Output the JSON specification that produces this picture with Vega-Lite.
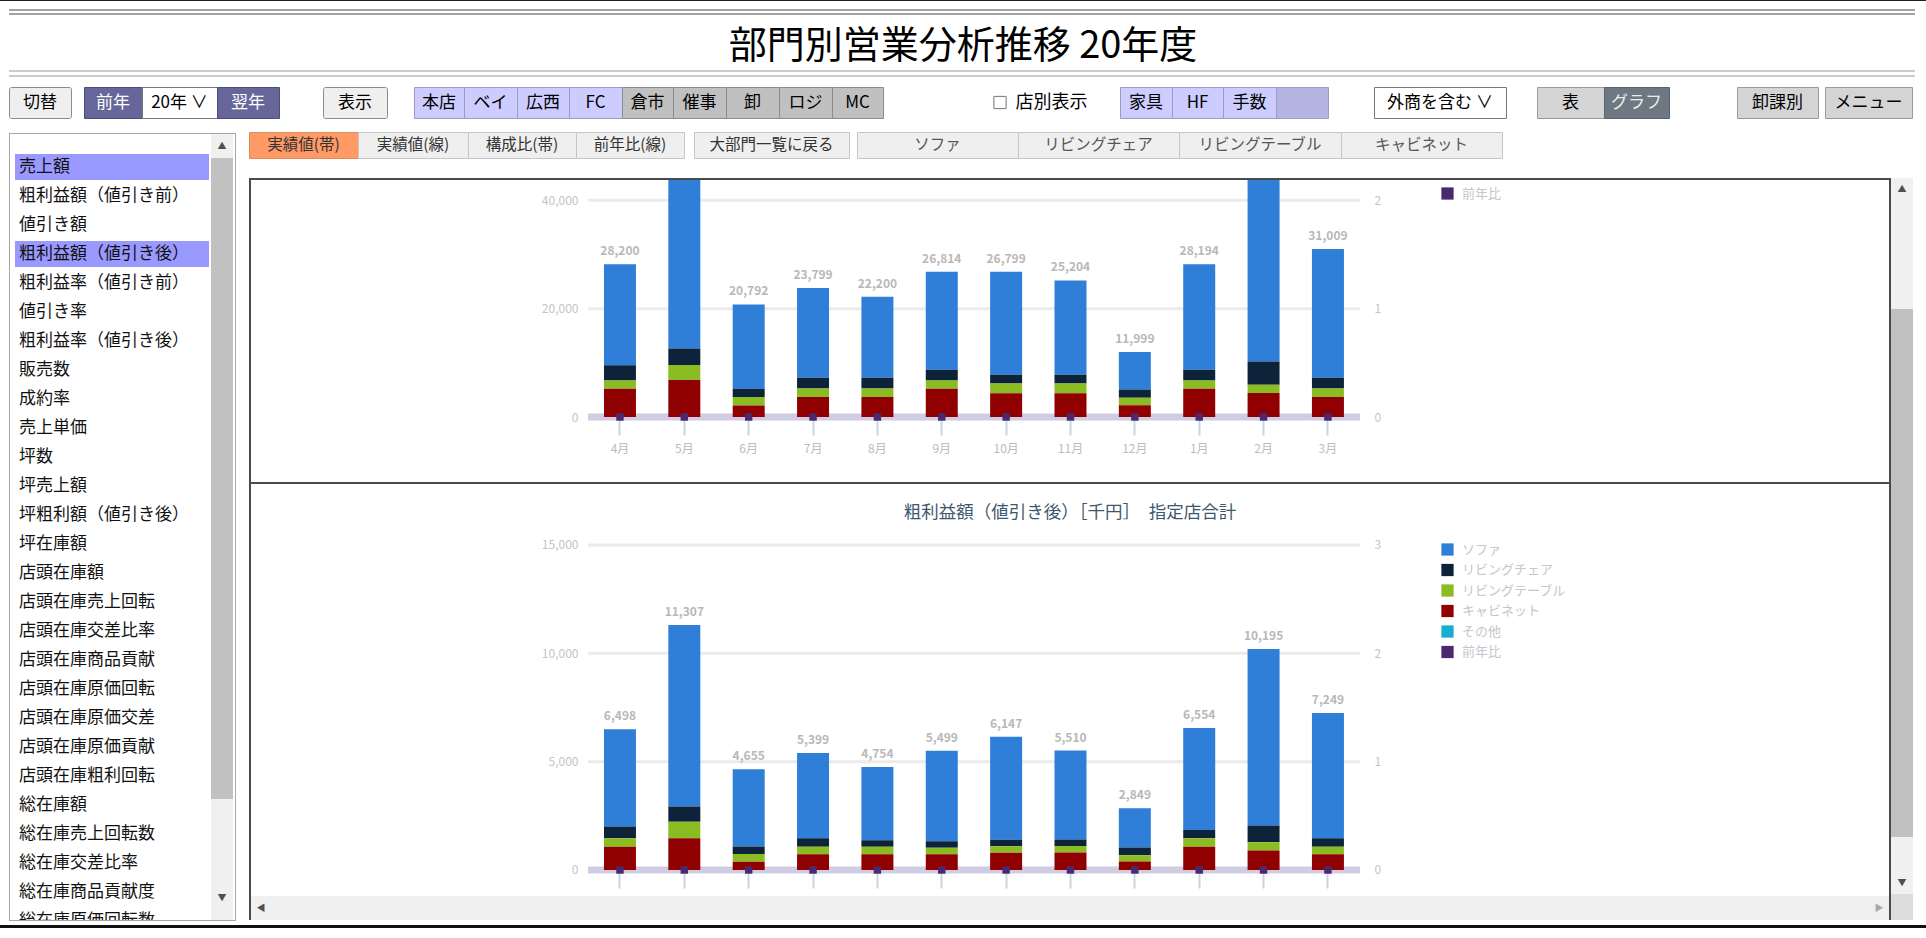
{
"$schema":"https://vega.github.io/schema/vega-lite/v6.json",
"padding":0,
"background":"#ffffff",
"spacing":0,
"config":{"font":"Noto Sans CJK JP","view":{"stroke":null},"concat":{"spacing":0},"axis":{"labelFont":"Noto Sans CJK JP"},"legend":{"labelFont":"Noto Sans CJK JP"},"text":{"font":"Noto Sans CJK JP"}},
"datasets":{
"top":[
{"month":"4月","series":"ソファ","value":18652},{"month":"4月","series":"リビングチェア","value":2814},{"month":"4月","series":"リビングテーブル","value":1536},{"month":"4月","series":"キャビネット","value":5198},
{"month":"5月","series":"ソファ","value":37412},{"month":"5月","series":"リビングチェア","value":3026},{"month":"5月","series":"リビングテーブル","value":2788},{"month":"5月","series":"キャビネット","value":6812},
{"month":"6月","series":"ソファ","value":15574},{"month":"6月","series":"リビングチェア","value":1528},{"month":"6月","series":"リビングテーブル","value":1547},{"month":"6月","series":"キャビネット","value":2143},
{"month":"7月","series":"ソファ","value":16548},{"month":"7月","series":"リビングチェア","value":2012},{"month":"7月","series":"リビングテーブル","value":1533},{"month":"7月","series":"キャビネット","value":3706},
{"month":"8月","series":"ソファ","value":14968},{"month":"8月","series":"リビングチェア","value":1987},{"month":"8月","series":"リビングテーブル","value":1551},{"month":"8月","series":"キャビネット","value":3694},
{"month":"9月","series":"ソファ","value":18071},{"month":"9月","series":"リビングチェア","value":1994},{"month":"9月","series":"リビングテーブル","value":1538},{"month":"9月","series":"キャビネット","value":5211},
{"month":"10月","series":"ソファ","value":18986},{"month":"10月","series":"リビングチェア","value":1612},{"month":"10月","series":"リビングテーブル","value":1796},{"month":"10月","series":"キャビネット","value":4405},
{"month":"11月","series":"ソファ","value":17415},{"month":"11月","series":"リビングチェア","value":1589},{"month":"11月","series":"リビングテーブル","value":1808},{"month":"11月","series":"キャビネット","value":4392},
{"month":"12月","series":"ソファ","value":6912},{"month":"12月","series":"リビングチェア","value":1534},{"month":"12月","series":"リビングテーブル","value":1406},{"month":"12月","series":"キャビネット","value":2147},
{"month":"1月","series":"ソファ","value":19448},{"month":"1月","series":"リビングチェア","value":2006},{"month":"1月","series":"リビングテーブル","value":1547},{"month":"1月","series":"キャビネット","value":5193},
{"month":"2月","series":"ソファ","value":37873},{"month":"2月","series":"リビングチェア","value":4312},{"month":"2月","series":"リビングテーブル","value":1534},{"month":"2月","series":"キャビネット","value":4408},
{"month":"3月","series":"ソファ","value":23745},{"month":"3月","series":"リビングチェア","value":2018},{"month":"3月","series":"リビングテーブル","value":1535},{"month":"3月","series":"キャビネット","value":3711}
],
"bottom":[
{"month":"4月","series":"ソファ","value":4486},{"month":"4月","series":"リビングチェア","value":552},{"month":"4月","series":"リビングテーブル","value":387},{"month":"4月","series":"キャビネット","value":1073},
{"month":"5月","series":"ソファ","value":8374},{"month":"5月","series":"リビングチェア","value":703},{"month":"5月","series":"リビングテーブル","value":768},{"month":"5月","series":"キャビネット","value":1462},
{"month":"6月","series":"ソファ","value":3571},{"month":"6月","series":"リビングチェア","value":348},{"month":"6月","series":"リビングテーブル","value":352},{"month":"6月","series":"キャビネット","value":384},
{"month":"7月","series":"ソファ","value":3936},{"month":"7月","series":"リビングチェア","value":387},{"month":"7月","series":"リビングテーブル","value":349},{"month":"7月","series":"キャビネット","value":727},
{"month":"8月","series":"ソファ","value":3382},{"month":"8月","series":"リビングチェア","value":298},{"month":"8月","series":"リビングテーブル","value":351},{"month":"8月","series":"キャビネット","value":723},
{"month":"9月","series":"ソファ","value":4171},{"month":"9月","series":"リビングチェア","value":302},{"month":"9月","series":"リビングテーブル","value":298},{"month":"9月","series":"キャビネット","value":728},
{"month":"10月","series":"ソファ","value":4746},{"month":"10月","series":"リビングチェア","value":301},{"month":"10月","series":"リビングテーブル","value":303},{"month":"10月","series":"キャビネット","value":797},
{"month":"11月","series":"ソファ","value":4108},{"month":"11月","series":"リビングチェア","value":297},{"month":"11月","series":"リビングテーブル","value":302},{"month":"11月","series":"キャビネット","value":803},
{"month":"12月","series":"ソファ","value":1812},{"month":"12月","series":"リビングチェア","value":352},{"month":"12月","series":"リビングテーブル","value":298},{"month":"12月","series":"キャビネット","value":387},
{"month":"1月","series":"ソファ","value":4711},{"month":"1月","series":"リビングチェア","value":383},{"month":"1月","series":"リビングテーブル","value":388},{"month":"1月","series":"キャビネット","value":1072},
{"month":"2月","series":"ソファ","value":8137},{"month":"2月","series":"リビングチェア","value":772},{"month":"2月","series":"リビングテーブル","value":383},{"month":"2月","series":"キャビネット","value":903},
{"month":"3月","series":"ソファ","value":5786},{"month":"3月","series":"リビングチェア","value":387},{"month":"3月","series":"リビングテーブル","value":352},{"month":"3月","series":"キャビネット","value":724}
],
"ratio":[
{"month":"4月","series":"前年比","value":0},{"month":"5月","series":"前年比","value":0},{"month":"6月","series":"前年比","value":0},{"month":"7月","series":"前年比","value":0},{"month":"8月","series":"前年比","value":0},{"month":"9月","series":"前年比","value":0},{"month":"10月","series":"前年比","value":0},{"month":"11月","series":"前年比","value":0},{"month":"12月","series":"前年比","value":0},{"month":"1月","series":"前年比","value":0},{"month":"2月","series":"前年比","value":0},{"month":"3月","series":"前年比","value":0}
]
},
"vconcat":[
{"width":1926,"height":1,"view":{"fill":"#1e1e1e"},"data":{"values":[]},"mark":"text"},
{"width":1,"height":8,"data":{"values":[]},"mark":"text"},
{"hconcat":[{"width":9,"height":2,"data":{"values":[]},"mark":"text"},{"width":1906,"height":2,"view":{"fill":"#a3a3a3"},"data":{"values":[]},"mark":"text"}],"spacing":0,"bounds":"flush"},
{"width":1,"height":2,"data":{"values":[]},"mark":"text"},
{"hconcat":[{"width":9,"height":2,"data":{"values":[]},"mark":"text"},{"width":1906,"height":2,"view":{"fill":"#a3a3a3"},"data":{"values":[]},"mark":"text"}],"spacing":0,"bounds":"flush"},
{"width":1926,"height":55,"data":{"values":[{"t":"部門別営業分析推移 20年度"}]},"mark":{"type":"text","fontSize":38,"color":"#000000","dy":4},"encoding":{"text":{"field":"t"}}},
{"hconcat":[{"width":9,"height":2,"data":{"values":[]},"mark":"text"},{"width":1906,"height":2,"view":{"fill":"#cdcdcd"},"data":{"values":[]},"mark":"text"}],"spacing":0,"bounds":"flush"},
{"width":1,"height":3,"data":{"values":[]},"mark":"text"},
{"hconcat":[{"width":9,"height":2,"data":{"values":[]},"mark":"text"},{"width":1906,"height":2,"view":{"fill":"#cdcdcd"},"data":{"values":[]},"mark":"text"}],"spacing":0,"bounds":"flush"},
{"width":1,"height":9,"data":{"values":[]},"mark":"text"},
{"hconcat":[
{"width":9,"height":1,"data":{"values":[]},"mark":"text"},
{"width":62,"height":31,"view":{"fill":"#efefef","stroke":"#8c8c8c","cornerRadius":2},"data":{"values":[{"label":"切替"}]},"mark":{"type":"text","fontSize":17,"color":"#000000"},"encoding":{"text":{"field":"label"}}},
{"width":13,"height":1,"data":{"values":[]},"mark":"text"},
{"width":58,"height":31,"view":{"fill":"#66669a","stroke":"#4d4d7a"},"data":{"values":[{"label":"前年"}]},"mark":{"type":"text","fontSize":17,"color":"#ffffff"},"encoding":{"text":{"field":"label"}}},
{"width":75,"height":31,"view":{"fill":"#ffffff","stroke":"#767676"},"data":{"values":[{"label":"20年 ∨"}]},"mark":{"type":"text","fontSize":17,"color":"#000000"},"encoding":{"text":{"field":"label"}}},
{"width":62,"height":31,"view":{"fill":"#66669a","stroke":"#4d4d7a"},"data":{"values":[{"label":"翌年"}]},"mark":{"type":"text","fontSize":17,"color":"#ffffff"},"encoding":{"text":{"field":"label"}}},
{"width":44,"height":1,"data":{"values":[]},"mark":"text"},
{"width":64,"height":31,"view":{"fill":"#efefef","stroke":"#8c8c8c","cornerRadius":2},"data":{"values":[{"label":"表示"}]},"mark":{"type":"text","fontSize":17,"color":"#000000"},"encoding":{"text":{"field":"label"}}},
{"width":27,"height":1,"data":{"values":[]},"mark":"text"},
{"width":50,"height":31,"view":{"fill":"#ccccff","stroke":"#9c9cc0"},"data":{"values":[{"label":"本店"}]},"mark":{"type":"text","fontSize":17,"color":"#000000"},"encoding":{"text":{"field":"label"}}},
{"width":53,"height":31,"view":{"fill":"#ccccff","stroke":"#9c9cc0"},"data":{"values":[{"label":"ベイ"}]},"mark":{"type":"text","fontSize":17,"color":"#000000"},"encoding":{"text":{"field":"label"}}},
{"width":52,"height":31,"view":{"fill":"#ccccff","stroke":"#9c9cc0"},"data":{"values":[{"label":"広西"}]},"mark":{"type":"text","fontSize":17,"color":"#000000"},"encoding":{"text":{"field":"label"}}},
{"width":53,"height":31,"view":{"fill":"#ccccff","stroke":"#9c9cc0"},"data":{"values":[{"label":"FC"}]},"mark":{"type":"text","fontSize":17,"color":"#000000"},"encoding":{"text":{"field":"label"}}},
{"width":51,"height":31,"view":{"fill":"#c0c0c0","stroke":"#8c8c8c"},"data":{"values":[{"label":"倉市"}]},"mark":{"type":"text","fontSize":17,"color":"#000000"},"encoding":{"text":{"field":"label"}}},
{"width":53,"height":31,"view":{"fill":"#c0c0c0","stroke":"#8c8c8c"},"data":{"values":[{"label":"催事"}]},"mark":{"type":"text","fontSize":17,"color":"#000000"},"encoding":{"text":{"field":"label"}}},
{"width":53,"height":31,"view":{"fill":"#c0c0c0","stroke":"#8c8c8c"},"data":{"values":[{"label":"卸"}]},"mark":{"type":"text","fontSize":17,"color":"#000000"},"encoding":{"text":{"field":"label"}}},
{"width":53,"height":31,"view":{"fill":"#c0c0c0","stroke":"#8c8c8c"},"data":{"values":[{"label":"ロジ"}]},"mark":{"type":"text","fontSize":17,"color":"#000000"},"encoding":{"text":{"field":"label"}}},
{"width":51,"height":31,"view":{"fill":"#c0c0c0","stroke":"#8c8c8c"},"data":{"values":[{"label":"MC"}]},"mark":{"type":"text","fontSize":17,"color":"#000000"},"encoding":{"text":{"field":"label"}}},
{"width":108,"height":1,"data":{"values":[]},"mark":"text"},
{"width":18,"height":31,"data":{"values":[{"c":1}]},"mark":{"type":"point","shape":"square","size":150,"filled":false,"stroke":"#767676","strokeWidth":1,"opacity":1},"encoding":{}},
{"width":85,"height":31,"data":{"values":[{"label":"店別表示"}]},"mark":{"type":"text","fontSize":18,"color":"#000000"},"encoding":{"text":{"field":"label"}}},
{"width":26,"height":1,"data":{"values":[]},"mark":"text"},
{"width":52,"height":31,"view":{"fill":"#ccccff","stroke":"#9c9cc0"},"data":{"values":[{"label":"家具"}]},"mark":{"type":"text","fontSize":17,"color":"#000000"},"encoding":{"text":{"field":"label"}}},
{"width":51,"height":31,"view":{"fill":"#ccccff","stroke":"#9c9cc0"},"data":{"values":[{"label":"HF"}]},"mark":{"type":"text","fontSize":17,"color":"#000000"},"encoding":{"text":{"field":"label"}}},
{"width":53,"height":31,"view":{"fill":"#ccccff","stroke":"#9c9cc0"},"data":{"values":[{"label":"手数"}]},"mark":{"type":"text","fontSize":17,"color":"#000000"},"encoding":{"text":{"field":"label"}}},
{"width":52,"height":31,"view":{"fill":"#b4b4e2","stroke":"#9c9cc0"},"data":{"values":[]},"mark":"text"},
{"width":46,"height":1,"data":{"values":[]},"mark":"text"},
{"width":132,"height":31,"view":{"fill":"#ffffff","stroke":"#767676"},"data":{"values":[{"label":"外商を含む ∨"}]},"mark":{"type":"text","fontSize":17,"color":"#000000"},"encoding":{"text":{"field":"label"}}},
{"width":31,"height":1,"data":{"values":[]},"mark":"text"},
{"width":67,"height":31,"view":{"fill":"#d4d4d4","stroke":"#9a9a9a"},"data":{"values":[{"label":"表"}]},"mark":{"type":"text","fontSize":17,"color":"#000000"},"encoding":{"text":{"field":"label"}}},
{"width":65,"height":31,"view":{"fill":"#6e7882","stroke":"#5a636b"},"data":{"values":[{"label":"グラフ"}]},"mark":{"type":"text","fontSize":17,"color":"#ececec"},"encoding":{"text":{"field":"label"}}},
{"width":68,"height":1,"data":{"values":[]},"mark":"text"},
{"width":81,"height":31,"view":{"fill":"#d4d4d4","stroke":"#9a9a9a"},"data":{"values":[{"label":"卸課別"}]},"mark":{"type":"text","fontSize":17,"color":"#000000"},"encoding":{"text":{"field":"label"}}},
{"width":7,"height":1,"data":{"values":[]},"mark":"text"},
{"width":87,"height":31,"view":{"fill":"#d4d4d4","stroke":"#9a9a9a"},"data":{"values":[{"label":"メニュー"}]},"mark":{"type":"text","fontSize":17,"color":"#000000"},"encoding":{"text":{"field":"label"}}}
],"spacing":0,"bounds":"flush"},
{"width":1,"height":12,"data":{"values":[]},"mark":"text"},
{"hconcat":[
{"width":9,"height":1,"data":{"values":[]},"mark":"text"},
{"vconcat":[
 {"width":1,"height":1,"data":{"values":[]},"mark":"text"},
 {"width":227,"height":1,"view":{"fill":"#a6a6a6"},"data":{"values":[]},"mark":"text"},
 {"hconcat":[
  {"width":1,"height":786,"view":{"fill":"#a6a6a6"},"data":{"values":[]},"mark":"text"},
  {"width":5,"height":1,"data":{"values":[]},"mark":"text"},
  {"width":194,"height":786,
   "data":{"values":[
    {"item":"売上額","sel":true},{"item":"粗利益額（値引き前）","sel":false},{"item":"値引き額","sel":false},{"item":"粗利益額（値引き後）","sel":true},{"item":"粗利益率（値引き前）","sel":false},{"item":"値引き率","sel":false},{"item":"粗利益率（値引き後）","sel":false},{"item":"販売数","sel":false},{"item":"成約率","sel":false},{"item":"売上単価","sel":false},{"item":"坪数","sel":false},{"item":"坪売上額","sel":false},{"item":"坪粗利額（値引き後）","sel":false},{"item":"坪在庫額","sel":false},{"item":"店頭在庫額","sel":false},{"item":"店頭在庫売上回転","sel":false},{"item":"店頭在庫交差比率","sel":false},{"item":"店頭在庫商品貢献","sel":false},{"item":"店頭在庫原価回転","sel":false},{"item":"店頭在庫原価交差","sel":false},{"item":"店頭在庫原価貢献","sel":false},{"item":"店頭在庫粗利回転","sel":false},{"item":"総在庫額","sel":false},{"item":"総在庫売上回転数","sel":false},{"item":"総在庫交差比率","sel":false},{"item":"総在庫商品貢献度","sel":false},{"item":"総在庫原価回転数","sel":false}
   ]},
   "encoding":{"y":{"field":"item","type":"nominal","scale":{"domain":["売上額","粗利益額（値引き前）","値引き額","粗利益額（値引き後）","粗利益率（値引き前）","値引き率","粗利益率（値引き後）","販売数","成約率","売上単価","坪数","坪売上額","坪粗利額（値引き後）","坪在庫額","店頭在庫額","店頭在庫売上回転","店頭在庫交差比率","店頭在庫商品貢献","店頭在庫原価回転","店頭在庫原価交差","店頭在庫原価貢献","店頭在庫粗利回転","総在庫額","総在庫売上回転数","総在庫交差比率","総在庫商品貢献度","総在庫原価回転数"],"range":[20,800],"paddingInner":0.1,"paddingOuter":0},"axis":null}},
   "layer":[
    {"transform":[{"filter":"datum.sel"}],"mark":{"type":"bar","color":"#9999ff"},"encoding":{"x":{"datum":0,"type":"quantitative","scale":{"domain":[0,1],"nice":false},"axis":null},"x2":{"datum":1}}},
    {"mark":{"type":"text","align":"left","fontSize":17,"color":"#111111","clip":true,"dx":4},"encoding":{"x":{"datum":0,"type":"quantitative","scale":{"domain":[0,1],"nice":false},"axis":null},"text":{"field":"item"}}}
   ]},
  {"width":2,"height":1,"data":{"values":[]},"mark":"text"},
  {"vconcat":[
   {"width":22,"height":23,"view":{"fill":"#f0f0f0"},"data":{"values":[{"a":"▲"}]},"mark":{"type":"text","fontSize":9,"color":"#505050"},"encoding":{"text":{"field":"a"}}},
   {"width":22,"height":1,"view":{"fill":"#f0f0f0"},"data":{"values":[]},"mark":"text"},
   {"width":22,"height":641,"view":{"fill":"#c1c1c1"},"data":{"values":[]},"mark":"text"},
   {"width":22,"height":87,"view":{"fill":"#f0f0f0"},"data":{"values":[]},"mark":"text"},
   {"width":22,"height":23,"view":{"fill":"#f0f0f0"},"data":{"values":[{"a":"▼"}]},"mark":{"type":"text","fontSize":9,"color":"#505050"},"encoding":{"text":{"field":"a"}}},
   {"width":22,"height":11,"view":{"fill":"#f0f0f0"},"data":{"values":[]},"mark":"text"}
  ],"spacing":0,"bounds":"flush"},
  {"width":2,"height":1,"data":{"values":[]},"mark":"text"},
  {"width":1,"height":786,"view":{"fill":"#a6a6a6"},"data":{"values":[]},"mark":"text"}
 ],"spacing":0},
 {"width":227,"height":1,"view":{"fill":"#a6a6a6"},"data":{"values":[]},"mark":"text"}
],"spacing":0},
{"width":12,"height":1,"data":{"values":[]},"mark":"text"},
{"vconcat":[
 {"hconcat":[
  {"width":109,"height":26,"view":{"fill":"#ff9966","stroke":"#e08a5a"},"data":{"values":[{"label":"実績値(帯)"}]},"mark":{"type":"text","fontSize":15.5,"color":"#333333"},"encoding":{"text":{"field":"label"}}},
  {"width":110,"height":26,"view":{"fill":"#efefef","stroke":"#c6c6c6"},"data":{"values":[{"label":"実績値(線)"}]},"mark":{"type":"text","fontSize":15.5,"color":"#333333"},"encoding":{"text":{"field":"label"}}},
  {"width":108,"height":26,"view":{"fill":"#efefef","stroke":"#c6c6c6"},"data":{"values":[{"label":"構成比(帯)"}]},"mark":{"type":"text","fontSize":15.5,"color":"#333333"},"encoding":{"text":{"field":"label"}}},
  {"width":108,"height":26,"view":{"fill":"#efefef","stroke":"#c6c6c6"},"data":{"values":[{"label":"前年比(線)"}]},"mark":{"type":"text","fontSize":15.5,"color":"#333333"},"encoding":{"text":{"field":"label"}}},
  {"width":10,"height":1,"data":{"values":[]},"mark":"text"},
  {"width":155,"height":26,"view":{"fill":"#efefef","stroke":"#c6c6c6"},"data":{"values":[{"label":"大部門一覧に戻る"}]},"mark":{"type":"text","fontSize":15.5,"color":"#333333"},"encoding":{"text":{"field":"label"}}},
  {"width":8,"height":1,"data":{"values":[]},"mark":"text"},
  {"width":161,"height":26,"view":{"fill":"#efefef","stroke":"#c6c6c6"},"data":{"values":[{"label":"ソファ"}]},"mark":{"type":"text","fontSize":15.5,"color":"#555555"},"encoding":{"text":{"field":"label"}}},
  {"width":161,"height":26,"view":{"fill":"#efefef","stroke":"#c6c6c6"},"data":{"values":[{"label":"リビングチェア"}]},"mark":{"type":"text","fontSize":15.5,"color":"#555555"},"encoding":{"text":{"field":"label"}}},
  {"width":162,"height":26,"view":{"fill":"#efefef","stroke":"#c6c6c6"},"data":{"values":[{"label":"リビングテーブル"}]},"mark":{"type":"text","fontSize":15.5,"color":"#555555"},"encoding":{"text":{"field":"label"}}},
  {"width":161,"height":26,"view":{"fill":"#efefef","stroke":"#c6c6c6"},"data":{"values":[{"label":"キャビネット"}]},"mark":{"type":"text","fontSize":15.5,"color":"#555555"},"encoding":{"text":{"field":"label"}}}
 ],"spacing":0,"bounds":"flush"},
 {"width":1,"height":19,"data":{"values":[]},"mark":"text"},
 {"hconcat":[
  {"vconcat":[
   {"width":1642,"height":2,"view":{"fill":"#4a4a4a"},"data":{"values":[]},"mark":"text"},
   {"hconcat":[
    {"width":2,"height":740,"view":{"fill":"#4a4a4a"},"data":{"values":[]},"mark":"text"},
    {"vconcat":[
     {"width":1638,"height":302,
      "layer":[
       {"data":{"name":"top"},
        "layer":[
         {"data":{"values":[{"g":0},{"g":20000},{"g":40000}]},
          "mark":{"type":"rule","color":"#ebebeb","strokeWidth":3},
          "encoding":{
           "x":{"datum":"4月","type":"ordinal","bandPosition":-0.5,"scale":{"type":"band","domain":["_a1","_a2","_a3","_a4","_a5","4月","5月","6月","7月","8月","9月","10月","11月","12月","1月","2月","3月","_b1","_b2","_b3","_b4","_b5","_b6","_b7","_b8"],"paddingInner":0.503,"paddingOuter":0.4765,"align":0.508},"axis":{"orient":"bottom","offset":-65,"values":["4月","5月","6月","7月","8月","9月","10月","11月","12月","1月","2月","3月"],"title":null,"domain":false,"grid":false,"ticks":true,"tickSize":18,"tickWidth":2,"tickColor":"#c8d5e2","labelColor":"#bcbcbc","labelFontSize":12,"labelPadding":8,"labelAngle":0}},
           "x2":{"datum":"3月","bandPosition":1.5},
           "y":{"field":"g","type":"quantitative","scale":{"domain":[-12000,43754],"nice":false,"zero":false},"axis":{"orient":"left","offset":-337,"values":[0,20000,40000],"labelExpr":"format(datum.value, ',')","title":null,"domain":false,"ticks":false,"tickSize":0,"grid":false,"labelColor":"#c4c4c4","labelFontSize":12,"labelPadding":10}}}},
         {"data":{"values":[{"g":0}]},
          "mark":{"type":"rule","color":"#cfcce4","strokeWidth":7},
          "encoding":{
           "x":{"datum":"4月","type":"ordinal","bandPosition":-0.5,"scale":{"type":"band","domain":["_a1","_a2","_a3","_a4","_a5","4月","5月","6月","7月","8月","9月","10月","11月","12月","1月","2月","3月","_b1","_b2","_b3","_b4","_b5","_b6","_b7","_b8"],"paddingInner":0.503,"paddingOuter":0.4765,"align":0.508},"axis":{"orient":"bottom","offset":-65,"values":["4月","5月","6月","7月","8月","9月","10月","11月","12月","1月","2月","3月"],"title":null,"domain":false,"grid":false,"ticks":true,"tickSize":18,"tickWidth":2,"tickColor":"#c8d5e2","labelColor":"#bcbcbc","labelFontSize":12,"labelPadding":8,"labelAngle":0}},
           "x2":{"datum":"3月","bandPosition":1.5},
           "y":{"field":"g","type":"quantitative","scale":{"domain":[-12000,43754],"nice":false,"zero":false},"axis":{"orient":"left","offset":-337,"values":[0,20000,40000],"labelExpr":"format(datum.value, ',')","title":null,"domain":false,"ticks":false,"tickSize":0,"grid":false,"labelColor":"#c4c4c4","labelFontSize":12,"labelPadding":10}}}},
         {"transform":[{"calculate":"indexof(['ソファ','リビングチェア','リビングテーブル','キャビネット','その他','前年比'], datum.series)","as":"k"}],
          "mark":{"type":"bar","clip":true},
          "encoding":{
           "x":{"field":"month","type":"ordinal","scale":{"type":"band","domain":["_a1","_a2","_a3","_a4","_a5","4月","5月","6月","7月","8月","9月","10月","11月","12月","1月","2月","3月","_b1","_b2","_b3","_b4","_b5","_b6","_b7","_b8"],"paddingInner":0.503,"paddingOuter":0.4765,"align":0.508},"axis":{"orient":"bottom","offset":-65,"values":["4月","5月","6月","7月","8月","9月","10月","11月","12月","1月","2月","3月"],"title":null,"domain":false,"grid":false,"ticks":true,"tickSize":18,"tickWidth":2,"tickColor":"#c8d5e2","labelColor":"#bcbcbc","labelFontSize":12,"labelPadding":8,"labelAngle":0}},
           "y":{"field":"value","type":"quantitative","stack":"zero","scale":{"domain":[-12000,43754],"nice":false,"zero":false},"axis":{"orient":"left","offset":-337,"values":[0,20000,40000],"labelExpr":"format(datum.value, ',')","title":null,"domain":false,"ticks":false,"tickSize":0,"grid":false,"labelColor":"#c4c4c4","labelFontSize":12,"labelPadding":10}},
           "color":{"field":"series","type":"nominal","scale":{"domain":["ソファ","リビングチェア","リビングテーブル","キャビネット","その他","前年比"],"range":["#2f7ed8","#0d233a","#8bbc21","#910000","#1aadce","#492970"]},"legend":{"orient":"none","legendX":1190,"legendY":7,"title":null,"values":["前年比"],"symbolType":"square","symbolSize":150,"symbolStrokeWidth":0,"labelFontSize":13,"labelColor":"#c3c7cd","rowPadding":6.5,"labelOffset":8}},
           "order":{"field":"k","type":"quantitative","sort":"descending"}}},
         {"transform":[{"aggregate":[{"op":"sum","field":"value","as":"total"}],"groupby":["month"]},{"filter":"datum.total < 41000"}],
          "mark":{"type":"text","clip":true,"baseline":"bottom","dy":-6,"fontSize":12,"fontWeight":"bold","color":"#b8b8b8"},
          "encoding":{
           "x":{"field":"month","type":"ordinal","scale":{"type":"band","domain":["_a1","_a2","_a3","_a4","_a5","4月","5月","6月","7月","8月","9月","10月","11月","12月","1月","2月","3月","_b1","_b2","_b3","_b4","_b5","_b6","_b7","_b8"],"paddingInner":0.503,"paddingOuter":0.4765,"align":0.508},"axis":{"orient":"bottom","offset":-65,"values":["4月","5月","6月","7月","8月","9月","10月","11月","12月","1月","2月","3月"],"title":null,"domain":false,"grid":false,"ticks":true,"tickSize":18,"tickWidth":2,"tickColor":"#c8d5e2","labelColor":"#bcbcbc","labelFontSize":12,"labelPadding":8,"labelAngle":0}},
           "y":{"field":"total","type":"quantitative","scale":{"domain":[-12000,43754],"nice":false,"zero":false},"axis":{"orient":"left","offset":-337,"values":[0,20000,40000],"labelExpr":"format(datum.value, ',')","title":null,"domain":false,"ticks":false,"tickSize":0,"grid":false,"labelColor":"#c4c4c4","labelFontSize":12,"labelPadding":10}},
           "text":{"field":"total","type":"quantitative","format":","}}}
        ]},
       {"data":{"name":"ratio"},
        "mark":{"type":"point","filled":true,"shape":"square","size":55,"opacity":1},
        "encoding":{
         "x":{"field":"month","type":"ordinal","scale":{"type":"band","domain":["_a1","_a2","_a3","_a4","_a5","4月","5月","6月","7月","8月","9月","10月","11月","12月","1月","2月","3月","_b1","_b2","_b3","_b4","_b5","_b6","_b7","_b8"],"paddingInner":0.503,"paddingOuter":0.4765,"align":0.508},"axis":{"orient":"bottom","offset":-65,"values":["4月","5月","6月","7月","8月","9月","10月","11月","12月","1月","2月","3月"],"title":null,"domain":false,"grid":false,"ticks":true,"tickSize":18,"tickWidth":2,"tickColor":"#c8d5e2","labelColor":"#bcbcbc","labelFontSize":12,"labelPadding":8,"labelAngle":0}},
         "y":{"field":"value","type":"quantitative","scale":{"domain":[-0.6,2.1877],"nice":false,"zero":false},"axis":{"orient":"right","offset":-527,"values":[0,1,2],"title":null,"domain":false,"ticks":false,"tickSize":0,"grid":false,"labelColor":"#c4c4c4","labelFontSize":12,"labelPadding":12}},
         "color":{"field":"series","type":"nominal","scale":{"domain":["ソファ","リビングチェア","リビングテーブル","キャビネット","その他","前年比"],"range":["#2f7ed8","#0d233a","#8bbc21","#910000","#1aadce","#492970"]},"legend":{"orient":"none","legendX":1190,"legendY":7,"title":null,"values":["前年比"],"symbolType":"square","symbolSize":150,"symbolStrokeWidth":0,"labelFontSize":13,"labelColor":"#c3c7cd","rowPadding":6.5,"labelOffset":8}}}}
      ],
      "resolve":{"scale":{"y":"independent"}}},
     {"width":1638,"height":2,"view":{"fill":"#4a4a4a"},"data":{"values":[]},"mark":"text"},
     {"width":1638,"height":54,"data":{"values":[{"t":"粗利益額（値引き後）［千円］　指定店合計"}]},"mark":{"type":"text","fontSize":17.5,"color":"#3e576f","dy":2},"encoding":{"text":{"field":"t"}}},
     {"width":1638,"height":358,
      "layer":[
       {"data":{"name":"bottom"},
        "layer":[
         {"data":{"values":[{"g":0},{"g":5000},{"g":10000},{"g":15000}]},
          "mark":{"type":"rule","color":"#ebebeb","strokeWidth":3},
          "encoding":{
           "x":{"datum":"4月","type":"ordinal","bandPosition":-0.5,"scale":{"type":"band","domain":["_a1","_a2","_a3","_a4","_a5","4月","5月","6月","7月","8月","9月","10月","11月","12月","1月","2月","3月","_b1","_b2","_b3","_b4","_b5","_b6","_b7","_b8"],"paddingInner":0.503,"paddingOuter":0.4765,"align":0.508},"axis":{"orient":"bottom","offset":-26,"values":["4月","5月","6月","7月","8月","9月","10月","11月","12月","1月","2月","3月"],"title":null,"domain":false,"grid":false,"ticks":true,"tickSize":18,"tickWidth":2,"tickColor":"#c8d5e2","labels":false}},
           "x2":{"datum":"3月","bandPosition":1.5},
           "y":{"field":"g","type":"quantitative","scale":{"domain":[-1200,15323],"nice":false,"zero":false},"axis":{"orient":"left","offset":-337,"values":[0,5000,10000,15000],"labelExpr":"format(datum.value, ',')","title":null,"domain":false,"ticks":false,"tickSize":0,"grid":false,"labelColor":"#c4c4c4","labelFontSize":12,"labelPadding":10}}}},
         {"data":{"values":[{"g":0}]},
          "mark":{"type":"rule","color":"#cfcce4","strokeWidth":7},
          "encoding":{
           "x":{"datum":"4月","type":"ordinal","bandPosition":-0.5,"scale":{"type":"band","domain":["_a1","_a2","_a3","_a4","_a5","4月","5月","6月","7月","8月","9月","10月","11月","12月","1月","2月","3月","_b1","_b2","_b3","_b4","_b5","_b6","_b7","_b8"],"paddingInner":0.503,"paddingOuter":0.4765,"align":0.508},"axis":{"orient":"bottom","offset":-26,"values":["4月","5月","6月","7月","8月","9月","10月","11月","12月","1月","2月","3月"],"title":null,"domain":false,"grid":false,"ticks":true,"tickSize":18,"tickWidth":2,"tickColor":"#c8d5e2","labels":false}},
           "x2":{"datum":"3月","bandPosition":1.5},
           "y":{"field":"g","type":"quantitative","scale":{"domain":[-1200,15323],"nice":false,"zero":false},"axis":{"orient":"left","offset":-337,"values":[0,5000,10000,15000],"labelExpr":"format(datum.value, ',')","title":null,"domain":false,"ticks":false,"tickSize":0,"grid":false,"labelColor":"#c4c4c4","labelFontSize":12,"labelPadding":10}}}},
         {"transform":[{"calculate":"indexof(['ソファ','リビングチェア','リビングテーブル','キャビネット','その他','前年比'], datum.series)","as":"k"}],
          "mark":{"type":"bar","clip":true},
          "encoding":{
           "x":{"field":"month","type":"ordinal","scale":{"type":"band","domain":["_a1","_a2","_a3","_a4","_a5","4月","5月","6月","7月","8月","9月","10月","11月","12月","1月","2月","3月","_b1","_b2","_b3","_b4","_b5","_b6","_b7","_b8"],"paddingInner":0.503,"paddingOuter":0.4765,"align":0.508},"axis":{"orient":"bottom","offset":-26,"values":["4月","5月","6月","7月","8月","9月","10月","11月","12月","1月","2月","3月"],"title":null,"domain":false,"grid":false,"ticks":true,"tickSize":18,"tickWidth":2,"tickColor":"#c8d5e2","labels":false}},
           "y":{"field":"value","type":"quantitative","stack":"zero","scale":{"domain":[-1200,15323],"nice":false,"zero":false},"axis":{"orient":"left","offset":-337,"values":[0,5000,10000,15000],"labelExpr":"format(datum.value, ',')","title":null,"domain":false,"ticks":false,"tickSize":0,"grid":false,"labelColor":"#c4c4c4","labelFontSize":12,"labelPadding":10}},
           "color":{"field":"series","type":"nominal","scale":{"domain":["ソファ","リビングチェア","リビングテーブル","キャビネット","その他","前年比"],"range":["#2f7ed8","#0d233a","#8bbc21","#910000","#1aadce","#492970"]},"legend":{"orient":"none","legendX":1190,"legendY":5,"title":null,"symbolType":"square","symbolSize":150,"symbolStrokeWidth":0,"labelFontSize":13,"labelColor":"#c3c7cd","rowPadding":6.5,"labelOffset":8}},
           "order":{"field":"k","type":"quantitative","sort":"descending"}}},
         {"transform":[{"aggregate":[{"op":"sum","field":"value","as":"total"}],"groupby":["month"]}],
          "mark":{"type":"text","clip":true,"baseline":"bottom","dy":-6,"fontSize":12,"fontWeight":"bold","color":"#b8b8b8"},
          "encoding":{
           "x":{"field":"month","type":"ordinal","scale":{"type":"band","domain":["_a1","_a2","_a3","_a4","_a5","4月","5月","6月","7月","8月","9月","10月","11月","12月","1月","2月","3月","_b1","_b2","_b3","_b4","_b5","_b6","_b7","_b8"],"paddingInner":0.503,"paddingOuter":0.4765,"align":0.508},"axis":{"orient":"bottom","offset":-26,"values":["4月","5月","6月","7月","8月","9月","10月","11月","12月","1月","2月","3月"],"title":null,"domain":false,"grid":false,"ticks":true,"tickSize":18,"tickWidth":2,"tickColor":"#c8d5e2","labels":false}},
           "y":{"field":"total","type":"quantitative","scale":{"domain":[-1200,15323],"nice":false,"zero":false},"axis":{"orient":"left","offset":-337,"values":[0,5000,10000,15000],"labelExpr":"format(datum.value, ',')","title":null,"domain":false,"ticks":false,"tickSize":0,"grid":false,"labelColor":"#c4c4c4","labelFontSize":12,"labelPadding":10}},
           "text":{"field":"total","type":"quantitative","format":","}}}
        ]},
       {"data":{"name":"ratio"},
        "mark":{"type":"point","filled":true,"shape":"square","size":55,"opacity":1},
        "encoding":{
         "x":{"field":"month","type":"ordinal","scale":{"type":"band","domain":["_a1","_a2","_a3","_a4","_a5","4月","5月","6月","7月","8月","9月","10月","11月","12月","1月","2月","3月","_b1","_b2","_b3","_b4","_b5","_b6","_b7","_b8"],"paddingInner":0.503,"paddingOuter":0.4765,"align":0.508},"axis":{"orient":"bottom","offset":-26,"values":["4月","5月","6月","7月","8月","9月","10月","11月","12月","1月","2月","3月"],"title":null,"domain":false,"grid":false,"ticks":true,"tickSize":18,"tickWidth":2,"tickColor":"#c8d5e2","labels":false}},
         "y":{"field":"value","type":"quantitative","scale":{"domain":[-0.24,3.0646],"nice":false,"zero":false},"axis":{"orient":"right","offset":-527,"values":[0,1,2,3],"title":null,"domain":false,"ticks":false,"tickSize":0,"grid":false,"labelColor":"#c4c4c4","labelFontSize":12,"labelPadding":12}},
         "color":{"field":"series","type":"nominal","scale":{"domain":["ソファ","リビングチェア","リビングテーブル","キャビネット","その他","前年比"],"range":["#2f7ed8","#0d233a","#8bbc21","#910000","#1aadce","#492970"]},"legend":{"orient":"none","legendX":1190,"legendY":5,"title":null,"symbolType":"square","symbolSize":150,"symbolStrokeWidth":0,"labelFontSize":13,"labelColor":"#c3c7cd","rowPadding":6.5,"labelOffset":8}}}}
      ],
      "resolve":{"scale":{"y":"independent"}}},
     {"hconcat":[
      {"width":20,"height":24,"view":{"fill":"#f0f0f0"},"data":{"values":[{"a":"◀"}]},"mark":{"type":"text","fontSize":9,"color":"#505050"},"encoding":{"text":{"field":"a"}}},
      {"width":1598,"height":24,"view":{"fill":"#f0f0f0"},"data":{"values":[]},"mark":"text"},
      {"width":20,"height":24,"view":{"fill":"#f0f0f0"},"data":{"values":[{"a":"▶"}]},"mark":{"type":"text","fontSize":9,"color":"#a8a8a8"},"encoding":{"text":{"field":"a"}}}
     ],"spacing":0,"bounds":"flush"}
    ],"spacing":0,"resolve":{"scale":{"color":"independent"}}},
    {"width":2,"height":740,"view":{"fill":"#4a4a4a"},"data":{"values":[]},"mark":"text"}
   ],"spacing":0}
  ],"spacing":0},
  {"vconcat":[
   {"width":22,"height":22,"view":{"fill":"#f0f0f0"},"data":{"values":[{"a":"▲"}]},"mark":{"type":"text","fontSize":9,"color":"#505050"},"encoding":{"text":{"field":"a"}}},
   {"width":22,"height":109,"view":{"fill":"#f0f0f0"},"data":{"values":[]},"mark":"text"},
   {"width":22,"height":528,"view":{"fill":"#c1c1c1"},"data":{"values":[]},"mark":"text"},
   {"width":22,"height":35,"view":{"fill":"#f0f0f0"},"data":{"values":[]},"mark":"text"},
   {"width":22,"height":22,"view":{"fill":"#f0f0f0"},"data":{"values":[{"a":"▼"}]},"mark":{"type":"text","fontSize":9,"color":"#505050"},"encoding":{"text":{"field":"a"}}},
   {"width":22,"height":26,"view":{"fill":"#dcdcdc"},"data":{"values":[]},"mark":"text"}
  ],"spacing":0,"bounds":"flush"}
 ],"spacing":0}
],"spacing":0}
],"spacing":0},
{"width":1,"height":4,"data":{"values":[]},"mark":"text"},
{"width":1926,"height":3,"view":{"fill":"#111111"},"data":{"values":[]},"mark":"text"}
]
}
